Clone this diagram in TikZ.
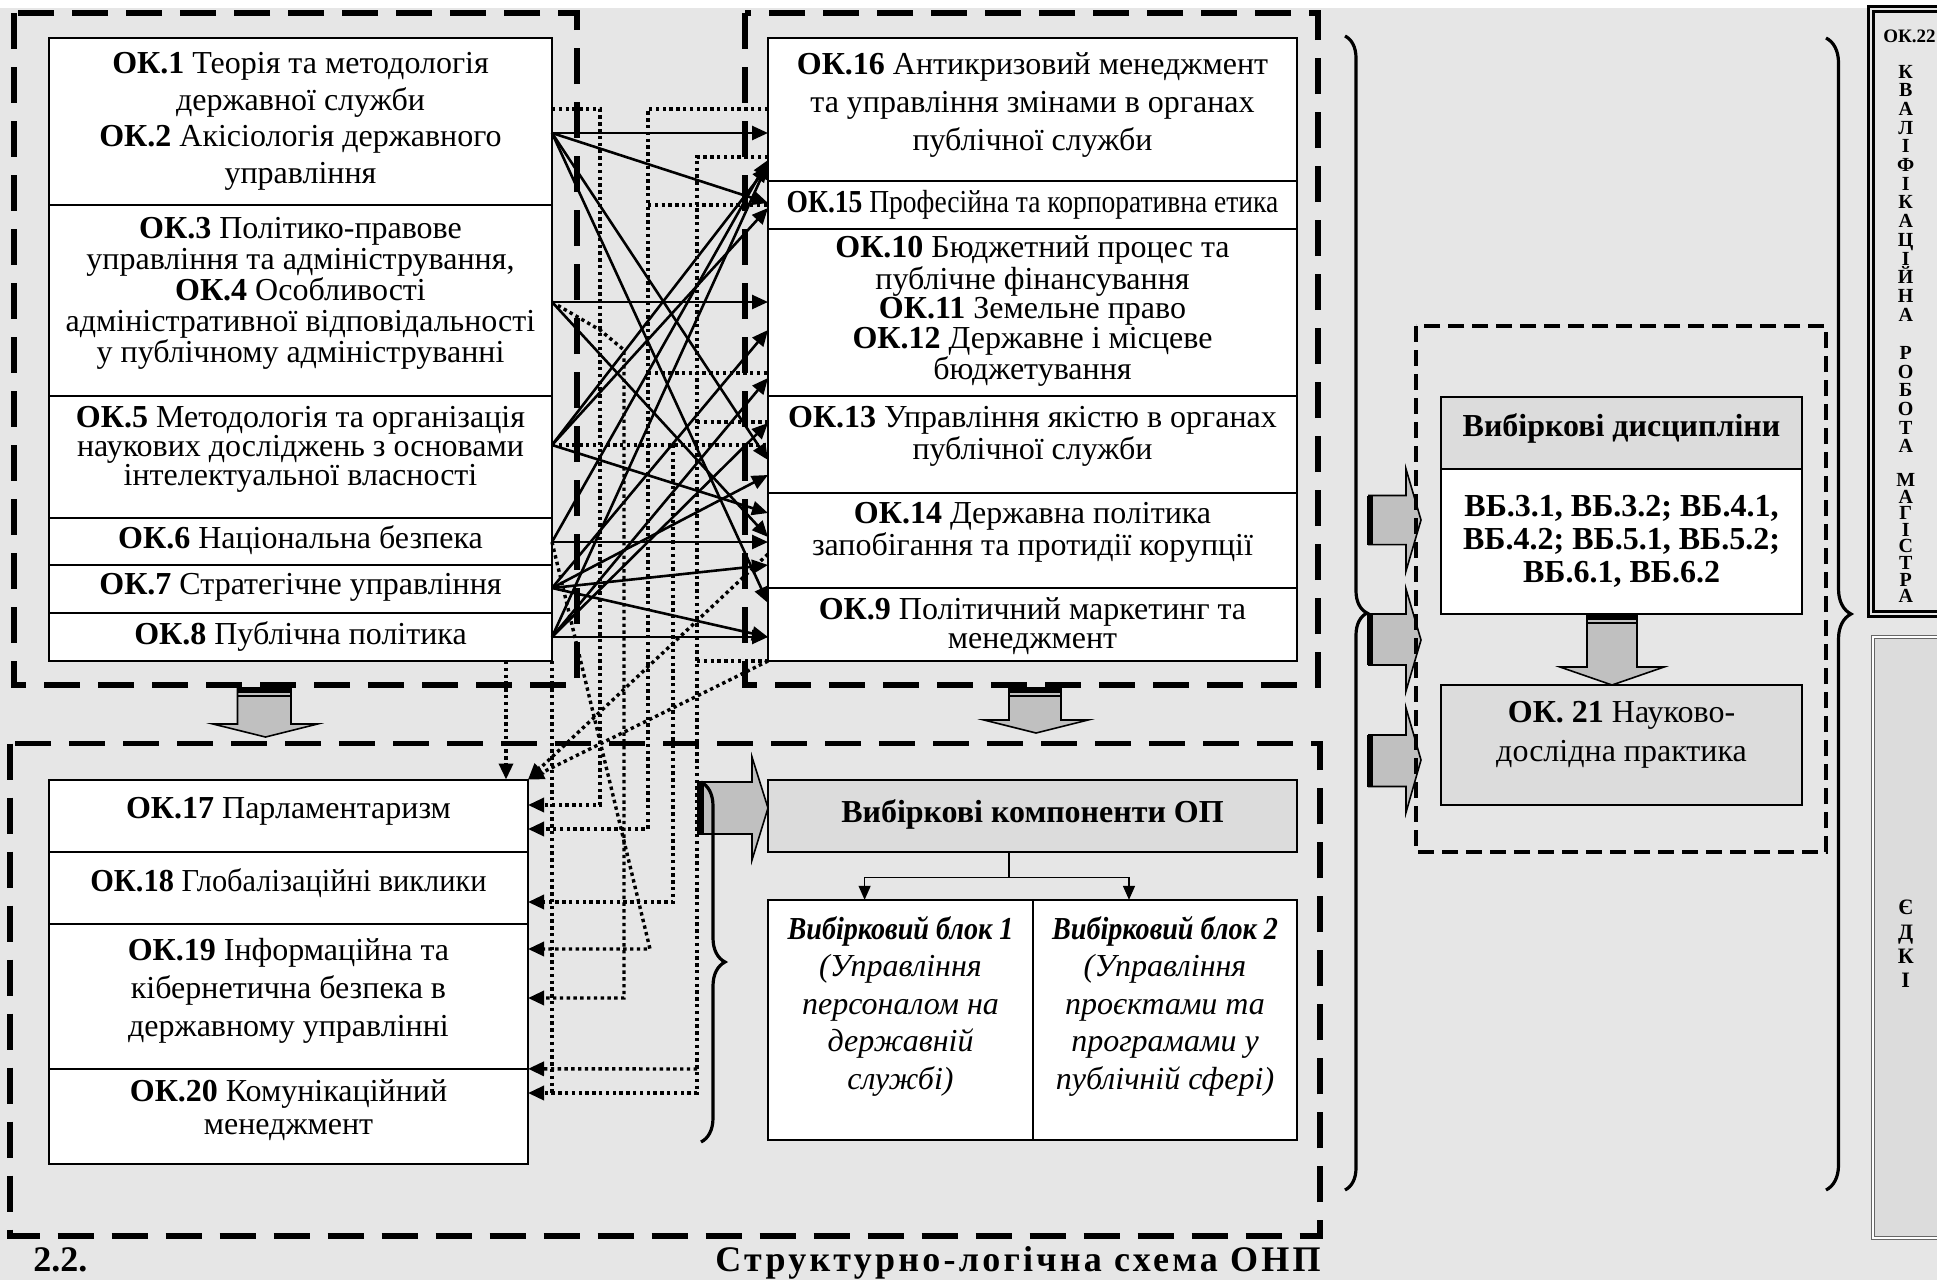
\documentclass[tikz,border=0pt]{standalone}
\usepackage{fontspec}
\setmainfont{Liberation Serif}
\newfontfamily\capfont[LetterSpace=9]{Liberation Serif}
\usepackage{graphicx}
\usetikzlibrary{arrows.meta,decorations.pathreplacing,calc}
\definecolor{bgc}{HTML}{E6E6E6}
\definecolor{hdrgray}{HTML}{DCDCDC}
\definecolor{arrgray}{HTML}{C0C0C0}
\newcommand\mkbox[6]{\node[#6, minimum width={(#4-#2)*0.5pt}, minimum height={(#5-#3)*0.5pt}] (#1) at ({(#2+#4)/2},{(#3+#5)/2}) {};}
\newcommand\Ln[4]{\draw[conn] (#1.east |- 0,#2) -- (#3.west |- 0,#4);}
\begin{document}
\begin{tikzpicture}[x=0.5pt,y=-0.5pt,
  wbox/.style={draw=black, line width=1pt, fill=white, inner sep=0pt, outer sep=0pt},
  gbox/.style={wbox, fill=hdrgray},
  dbl/.style={draw=black, line width=1.1pt, double=bgc, double distance=1.4pt, inner sep=0pt, outer sep=0pt},
  edk/.style={draw=black!60, line width=0.6pt, double=white, double distance=0.6pt, fill=hdrgray, inner sep=0pt, outer sep=0pt},
  txt/.style={inner sep=0pt, align=center, font=\fontsize{16pt}{18.25pt}\selectfont},
  conn/.style={line width=1.3pt, -{Triangle[length=8pt,width=7pt]}},
  thinarr/.style={line width=0.7pt, -{Triangle[length=7pt,width=6pt]}},
  dotc/.style={line width=1.7pt, dash pattern=on 1.7pt off 1.7pt},
  dota/.style={dotc, -{Triangle[length=8pt,width=7pt]}},
  grp/.style={line width=2.6pt, dash pattern=on 18pt off 9pt},
  grptwo/.style={line width=2pt, dash pattern=on 8pt off 4pt},
  garrow/.style={fill=arrgray, draw=black, line width=0.8pt},
  brc/.style={line width=1.6pt, decorate, decoration={brace, amplitude=#1}},
  vlet/.style={inner sep=0pt, align=center}
]
\useasboundingbox (0,0) rectangle (1937,1280);
\fill[white] (0,0) rectangle (1937,1280);
\fill[bgc] (0,8) rectangle (1937,1280);

% ---------- boxes ----------
\mkbox{l12}{49}{38}{552}{205}{wbox}
\mkbox{l34}{49}{205}{552}{396}{wbox}
\mkbox{l5}{49}{396}{552}{518}{wbox}
\mkbox{l6}{49}{518}{552}{565}{wbox}
\mkbox{l7}{49}{565}{552}{613}{wbox}
\mkbox{l8}{49}{613}{552}{661}{wbox}
\mkbox{r16}{768}{38}{1297}{181}{wbox}
\mkbox{r15}{768}{181}{1297}{229}{wbox}
\mkbox{r10}{768}{229}{1297}{396}{wbox}
\mkbox{r13}{768}{396}{1297}{493}{wbox}
\mkbox{r14}{768}{493}{1297}{588}{wbox}
\mkbox{r9}{768}{588}{1297}{661}{wbox}
\mkbox{l17}{49}{779.5}{528}{851.7}{wbox}
\mkbox{l18}{49}{851.7}{528}{923.8}{wbox}
\mkbox{l19}{49}{923.8}{528}{1068.8}{wbox}
\mkbox{l20}{49}{1068.8}{528}{1164.3}{wbox}
\mkbox{vk}{768}{779.5}{1297}{851.7}{gbox}
\mkbox{b1}{768}{899.8}{1033}{1139.5}{wbox}
\mkbox{b2}{1033}{899.8}{1297}{1139.5}{wbox}
\mkbox{vdh}{1441}{397}{1802}{469}{gbox}
\mkbox{vdb}{1441}{469}{1802}{614}{wbox}
\mkbox{ok21}{1441}{685}{1802}{805}{gbox}
\mkbox{ok22}{1871}{9}{1965}{614}{dbl}
\mkbox{edki}{1873}{637}{1965}{1238}{edk}

% ---------- solid connectors ----------
\Ln{l12}{133}{r16}{133}
\Ln{l12}{133}{r15}{203}
\Ln{l12}{133}{r13}{460}
\Ln{l12}{133}{r9}{603}
\Ln{l34}{302}{r10}{302}
\Ln{l34}{302}{r14}{537}
\Ln{l5}{445}{r16}{166}
\Ln{l5}{445}{r15}{208}
\Ln{l5}{445}{r14}{513}
\Ln{l6}{542}{r14}{542}
\Ln{l6}{542}{r16}{160}
\Ln{l7}{588}{r14}{565}
\Ln{l7}{588}{r9}{637}
\Ln{l7}{588}{r13}{475}
\Ln{l7}{588}{r10}{330}
\Ln{l8}{637}{r9}{637}
\Ln{l8}{637}{r16}{163}
\Ln{l8}{637}{r10}{378}
\Ln{l8}{637}{r13}{423}

% ---------- dotted connectors ----------
\draw[dota] (l12.east |- 0,109) -- (600,109) -- (600,805) -- (l17.east |- 0,805);
\draw[dota] (r16.west |- 0,109) -- (648,109) -- (648,829) -- (l17.east |- 0,829);
\draw[dotc] (648,205) -- (r15.west |- 0,205);
\draw[dotc] (648,373) -- (r10.west |- 0,373);
\draw[dota] (r16.west |- 0,157) -- (697,157) -- (697,1093) -- (l20.east |- 0,1093);
\draw[dotc] (697,422) -- (r13.west |- 0,422);
\draw[dotc] (697,661) -- (r9.south west);
\draw[dota] (697,1069) -- (l20.north east);
\draw[dota] (l34.east |- 0,302) -- (600,330) -- (624,350) -- (624,998) -- (l19.east |- 0,998);
\draw[dotc] (l5.east |- 0,445) -- (r13.west |- 0,445);
\draw[dota] (673,445) -- (673,902) -- (l18.east |- 0,902);
\draw[dota] (l6.east |- 0,542) -- (650,949) -- (l19.east |- 0,949);
\draw[dotc] (l8.south east) -- (552,1093);
\draw[dota] (l8.south -| 506,0) -- (l17.north -| 506,0);
\draw[dota] (r14.west |- 0,554) -- (l17.north east);
\draw[dota] (r9.south west) -- (l17.north east);

% ---------- selective block connectors ----------
\draw[line width=0.7pt] (vk.south -| 1009,0) -- (1009,877.6) coordinate (vksplit);
\draw[thinarr] (vksplit) -| (b1.north -| 864.6,0);
\draw[thinarr] (vksplit) -| (b2.north -| 1129,0);

% ---------- gray block arrows ----------
\draw[garrow] (237.5,688) -- (291,688) -- (291,724) -- (317.5,724) -- (265.5,737) -- (213,724) -- (237.5,724) -- cycle;
\fill[black] (237.5,688) rectangle (291,693);
\draw[line width=0.6pt] (237.5,696) -- (291,696);
\draw[garrow] (1009,688) -- (1061,688) -- (1061,720) -- (1088,720) -- (1036,733) -- (984,720) -- (1009,720) -- cycle;
\fill[black] (1009,688) rectangle (1061,693);
\draw[line width=0.6pt] (1009,696) -- (1061,696);
\draw[garrow] (698,782) -- (752,782) -- (752,757) -- (768,808) -- (752,860) -- (752,834) -- (698,834) -- cycle;
\fill[black] (698,782) rectangle (704,834);
\draw[garrow] (1369,495.5) -- (1406,495.5) -- (1406,469) -- (1421,520) -- (1406,571) -- (1406,544.6) -- (1369,544.6) -- cycle;
\fill[black] (1367,495.5) rectangle (1373,544.6);
\draw[garrow] (1369,614) -- (1406,614) -- (1406,589) -- (1421,640) -- (1406,691) -- (1406,665) -- (1369,665) -- cycle;
\fill[black] (1367,614) rectangle (1373,665);
\draw[garrow] (1369,735) -- (1406,735) -- (1406,708) -- (1421,760) -- (1406,812.5) -- (1406,786.5) -- (1369,786.5) -- cycle;
\fill[black] (1367,735) rectangle (1373,786.5);
\draw[garrow] (1587,614) -- (1637,614) -- (1637,667) -- (1664,667) -- (1612,685) -- (1560,667) -- (1587,667) -- cycle;
\fill[black] (1587,614) rectangle (1637,620);
\draw[line width=0.6pt] (1587,623) -- (1637,623);

% ---------- group borders ----------
\draw[grp] (14,13) rectangle (577,685);
\draw[grp] (745,13) rectangle (1318,685);
\draw[grp] (10,743.6) rectangle (1320,1236);
\draw[grptwo] (1416,326) rectangle (1826,852);

% ---------- braces ----------
\draw[brc=12pt] (701,782) -- (701,1142);
\draw[brc=11pt] (1345,36) -- (1345,1190);
\draw[brc=12.5pt] (1826,38) -- (1826,1190);

% ---------- texts ----------
\node[txt] (t12) at (300.5,121.5) {\textbf{ОК.1} Теорія та методологія\\державної служби\\\textbf{ОК.2} Акісіологія державного\\управління};
\node[txt, font=\fontsize{16pt}{15.5pt}\selectfont] (t34) at (300.5,293.5) {\textbf{ОК.3} Політико-правове\\управління та адміністрування,\\\textbf{ОК.4} Особливості\\адміністративної відповідальності\\у публічному адмініструванні};
\node[txt, font=\fontsize{16pt}{14.5pt}\selectfont] (t5) at (300.5,449) {\textbf{ОК.5} Методологія та організація\\наукових досліджень з основами\\інтелектуальної власності};
\node[txt] (t6) at (300.5,540) {\textbf{ОК.6} Національна безпека};
\node[txt] (t7) at (300.5,587) {\textbf{ОК.7} Стратегічне управління};
\node[txt] (t8) at (300.5,636) {\textbf{ОК.8} Публічна політика};

\node[txt, font=\fontsize{16pt}{19pt}\selectfont] (t16) at (1032.5,105) {\textbf{ОК.16} Антикризовий менеджмент\\та управління змінами в органах\\публічної служби};
\node[txt] (t15) at (1032.5,204.5) {\scalebox{0.86}[1]{\textbf{ОК.15} Професійна та корпоративна етика}};
\node[txt, font=\fontsize{16pt}{14.75pt}\selectfont] (t10) at (1032.5,311) {\textbf{ОК.10} Бюджетний процес та\\публічне фінансування\\\textbf{ОК.11} Земельне право\\\textbf{ОК.12} Державне і місцеве\\бюджетування};
\node[txt, font=\fontsize{16pt}{14.5pt}\selectfont] (t13) at (1032.5,436.5) {\textbf{ОК.13} Управління якістю в органах\\публічної служби};
\node[txt, font=\fontsize{16pt}{14.5pt}\selectfont] (t14) at (1032.5,532.5) {\textbf{ОК.14} Державна політика\\запобігання та протидії корупції};
\node[txt, font=\fontsize{16pt}{14.5pt}\selectfont] (t9) at (1032.5,626) {\textbf{ОК.9} Політичний маркетинг та\\менеджмент};

\node[txt] (t17) at (288.5,811) {\textbf{ОК.17} Парламентаризм};
\node[txt] (t18) at (288.5,883) {\scalebox{0.95}[1]{\textbf{ОК.18} Глобалізаційні виклики}};
\node[txt, font=\fontsize{16pt}{19pt}\selectfont] (t19) at (288.5,991) {\textbf{ОК.19} Інформаційна та\\кібернетична безпека в\\державному управлінні};
\node[txt, font=\fontsize{16pt}{16.5pt}\selectfont] (t20) at (288.5,1110.5) {\textbf{ОК.20} Комунікаційний\\менеджмент};

\node[txt, font=\bfseries\fontsize{16pt}{18pt}\selectfont] (tvk) at (1032.5,814.7) {Вибіркові компоненти ОП};
\node[txt, font=\itshape\fontsize{16pt}{18.75pt}\selectfont] (tb1) at (900.5,1006) {\scalebox{0.88}[1]{\textbf{Вибірковий блок 1}}\\(Управління\\персоналом на\\державній\\службі)};
\node[txt, font=\itshape\fontsize{16pt}{18.75pt}\selectfont] (tb2) at (1165,1006) {\scalebox{0.88}[1]{\textbf{Вибірковий блок 2}}\\(Управління\\проєктами та\\програмами у\\публічній сфері)};

\node[txt, font=\bfseries\fontsize{16pt}{18pt}\selectfont] (tvdh) at (1621.5,428.6) {Вибіркові дисципліни};
\node[txt, font=\bfseries\fontsize{16pt}{16.5pt}\selectfont] (tvdb) at (1621.5,541) {ВБ.3.1, ВБ.3.2; ВБ.4.1,\\ВБ.4.2; ВБ.5.1, ВБ.5.2;\\ВБ.6.1, ВБ.6.2};
\node[txt, font=\fontsize{16pt}{19.5pt}\selectfont] (tok21) at (1621.5,734.5) {\textbf{ОК. 21} Науково-\\дослідна практика};

\node[inner sep=0pt, anchor=west, font=\bfseries\fontsize{9.5pt}{11pt}\selectfont] (ok22t) at (1883,36) {ОК.22};
\node[vlet, font=\bfseries\fontsize{10pt}{9.35pt}\selectfont] (w1) at (1905.7,193) {К\\В\\А\\Л\\І\\Ф\\І\\К\\А\\Ц\\І\\Й\\Н\\А};
\node[vlet, font=\bfseries\fontsize{10pt}{9.35pt}\selectfont] (w2) at (1905.7,399.5) {Р\\О\\Б\\О\\Т\\А};
\node[vlet, font=\bfseries\fontsize{10pt}{8.3pt}\selectfont] (w3) at (1905.7,538) {М\\А\\Г\\І\\С\\Т\\Р\\А};
\node[vlet, font=\bfseries\fontsize{11pt}{12.2pt}\selectfont] (w4) at (1905.7,944) {Є\\Д\\К\\І};

\node[inner sep=0pt, anchor=base west, font=\bfseries\fontsize{18pt}{20pt}\selectfont] (cap1) at (33,1271) {2.2.};
\node[inner sep=0pt, anchor=base west, font=\capfont\bfseries\fontsize{18pt}{20pt}\selectfont] (cap2) at (715,1271) {Структурно-логічна схема ОНП};
\end{tikzpicture}
\end{document}
